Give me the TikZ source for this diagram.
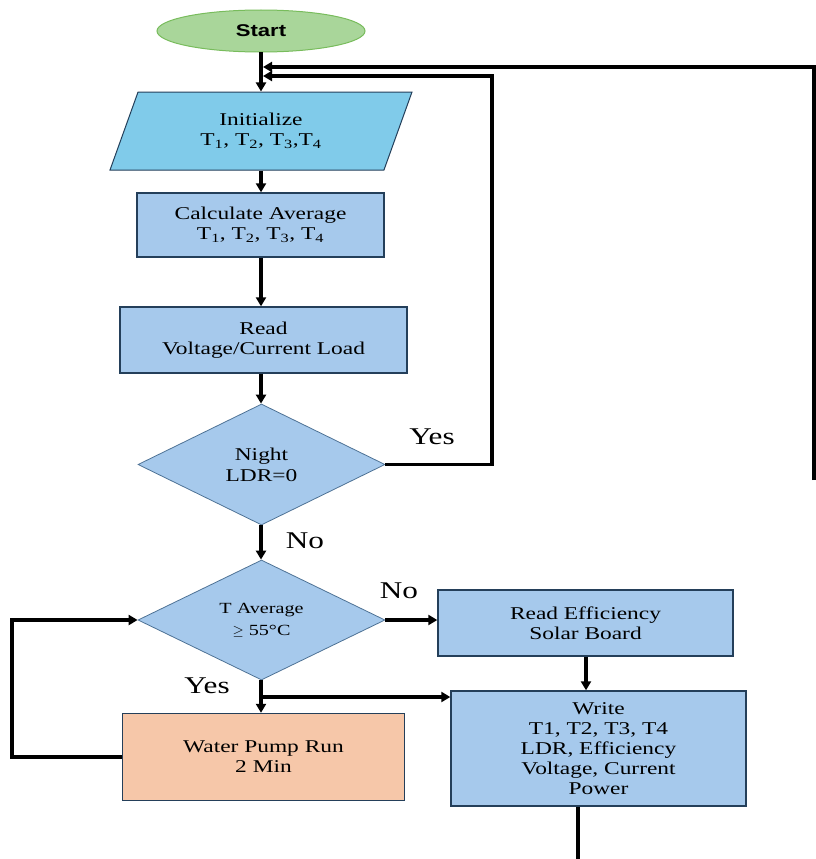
\documentclass[tikz,border=0pt]{standalone}
\usepackage{fontspec}
\setmainfont{Liberation Serif}[FakeStretch=1.3]
\newfontfamily\startfont{Liberation Sans}[FakeStretch=1.3]
\usepackage{tikz}
\usetikzlibrary{
    positioning,
    calc,
    shapes.geometric,
    arrows.meta
}
\definecolor{CaixaAzul}{HTML}{A6C9EC}
\definecolor{CeuAzul}{HTML}{80CBEA}
\definecolor{BordaEscura}{HTML}{243F5A}
\definecolor{BordaLosango}{HTML}{4E7295}
\definecolor{VerdeInicio}{HTML}{A9D69A}
\definecolor{VerdeBorda}{HTML}{78BC5C}
\definecolor{PessegoBomba}{HTML}{F6C7A9}

\tikzset{
    flowbox/.style={
        rectangle,
        draw=BordaEscura,
        line width=1.4pt,
        fill=CaixaAzul,
        inner sep=0pt,
        align=center,
        font=\fontsize{18}{20}\selectfont
    },
    decision/.style={
        diamond,
        aspect=2,
        draw=BordaLosango,
        line width=0.8pt,
        fill=CaixaAzul,
        inner sep=0pt,
        align=center,
        font=\fontsize{18}{21}\selectfont
    },
    flowline/.style={line width=3.2pt},
    flowarrow/.style={flowline, -{Triangle[length=9pt,width=10pt]}},
    answer/.style={inner sep=0pt, font=\fontsize{24}{24}\selectfont}
}

\begin{document}
\begin{tikzpicture}[x=1pt,y=-1pt]
    \useasboundingbox (0,0) rectangle (816,859);

    % main column
    \node[
        ellipse,
        draw=VerdeBorda,
        line width=1pt,
        fill=VerdeInicio,
        minimum width=208pt,
        minimum height=42pt,
        font=\startfont\bfseries\fontsize{17}{17}\selectfont
    ] (start) at (261,31) {Start};

    \node[
        trapezium,
        trapezium left angle=51.5,
        trapezium right angle=128.5,
        trapezium stretches body,
        draw=BordaEscura,
        line width=1pt,
        fill=CeuAzul,
        minimum width=302pt,
        minimum height=78pt,
        inner sep=0pt,
        align=center,
        font=\fontsize{18}{20}\selectfont
    ] (init) at (261,131) {Initialize\\T\textsubscript{1}, T\textsubscript{2}, T\textsubscript{3},T\textsubscript{4}};

    \node[flowbox, minimum width=247pt, minimum height=64pt]
        (calc) at (260.5,225) {Calculate Average\\T\textsubscript{1}, T\textsubscript{2}, T\textsubscript{3}, T\textsubscript{4}};

    \node[flowbox, minimum width=287pt, minimum height=66pt]
        (read) at (263.5,340) {Read\\Voltage/Current Load};

    \node[decision, minimum width=247pt, minimum height=121pt]
        (night) at (261.5,464.5) {Night\\LDR=0};

    \node[decision, minimum width=247pt, minimum height=120pt,
        font=\fontsize{15.5}{22}\selectfont]
        (tavg) at (261.5,620) {T Average\\$\geq$ 55\textdegree C};

    \node[flowbox, minimum width=282pt, minimum height=87pt, fill=PessegoBomba]
        (pump) at (263.5,757) {Water Pump Run\\2 Min};

    \node[flowbox, minimum width=295pt, minimum height=66pt]
        (eff) at (585.5,623) {Read Efficiency\\Solar Board};

    \node[flowbox, minimum width=295pt, minimum height=115pt]
        (write) at (598.5,748.5) {Write\\T1, T2, T3, T4\\LDR, Efficiency\\Voltage, Current\\Power};

    % answers
    \node[answer] (yesNight) at (432,437) {Yes};
    \node[answer] (noNight) at (305,541) {No};
    \node[answer] (noTavg) at (399,591) {No};
    \node[answer] (yesTavg) at (207,686) {Yes};

    % turning points
    \coordinate (joinA) at (263,67);
    \coordinate (joinB) at (263,76);
    \coordinate (backB) at (492,76);
    \coordinate (farTop) at (814,67);
    \coordinate (farEnd) at (814,480);
    \coordinate (split) at (262,697);
    \coordinate (loopL) at (12,618);
    \coordinate (writeEnd) at (578,859);

    % connectors
    \draw[flowarrow] (start) -- (init.north -| start);
    \draw[flowarrow] (init.south -| start) -- (calc.north -| start);
    \draw[flowarrow] (calc.south -| start) -- (read.north -| start);
    \draw[flowarrow] (read.south -| start) -- (night.north -| start);
    \draw[flowarrow] (night.south -| start) -- (tavg.north -| start);
    \draw[flowarrow] (night.east) -| (backB) -- (joinB);
    \draw[flowarrow] (farEnd) -- (farTop) -- (joinA);
    \draw[flowarrow] (tavg.east) -- (eff.west |- tavg.east);
    \draw[flowarrow] (eff.south -| 586,0) -- (write.north -| 586,0);
    \draw[flowarrow] (tavg.south -| start) -- (pump.north -| start);
    \draw[flowarrow] (split) -- (split -| write.west);
    \draw[flowarrow] (pump.west) -- (pump.west -| loopL) |- (tavg.west);
    \draw[flowline] (writeEnd |- write.south) -- (writeEnd);
\end{tikzpicture}
\end{document}
